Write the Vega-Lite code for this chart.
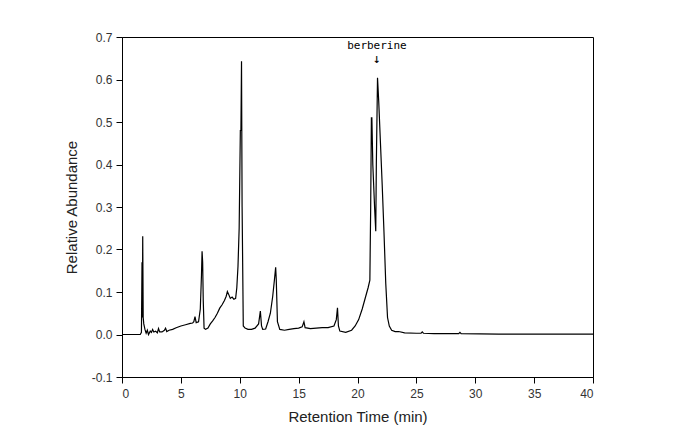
{
  "$schema": "https://vega.github.io/schema/vega-lite/v6.json",
  "width": 471,
  "height": 340,
  "autosize": "none",
  "padding": {"left": 122, "top": 37, "right": 88, "bottom": 71},
  "background": "white",
  "config": {
    "view": {"stroke": "black", "strokeWidth": 1},
    "axis": {
      "grid": false,
      "domain": true,
      "domainColor": "black",
      "tickColor": "black",
      "tickSize": 6,
      "labelFont": "Liberation Sans",
      "labelFontSize": 12,
      "labelColor": "#333",
      "titleFont": "Liberation Sans",
      "titleFontSize": 15,
      "titleFontWeight": "normal",
      "titleColor": "#222"
    }
  },
  "datasets": {
    "trace": [
      {"t": 0, "y": 0}, {"t": 1.55, "y": 0}, {"t": 1.65, "y": 0.005}, {"t": 1.7, "y": 0.17},
      {"t": 1.73, "y": 0.04}, {"t": 1.76, "y": 0.231}, {"t": 1.8, "y": 0.04}, {"t": 1.85, "y": 0.025},
      {"t": 1.95, "y": 0.012}, {"t": 2.05, "y": 0.003}, {"t": 2.15, "y": 0.01}, {"t": 2.25, "y": 0.0},
      {"t": 2.4, "y": 0.008}, {"t": 2.5, "y": 0.005}, {"t": 2.6, "y": 0.012}, {"t": 2.7, "y": 0.006},
      {"t": 2.85, "y": 0.008}, {"t": 3.0, "y": 0.004}, {"t": 3.1, "y": 0.014}, {"t": 3.2, "y": 0.006},
      {"t": 3.4, "y": 0.006}, {"t": 3.6, "y": 0.01}, {"t": 3.7, "y": 0.015}, {"t": 3.8, "y": 0.007},
      {"t": 4.0, "y": 0.01}, {"t": 4.3, "y": 0.012}, {"t": 4.6, "y": 0.016}, {"t": 5.0, "y": 0.02},
      {"t": 5.4, "y": 0.023}, {"t": 5.8, "y": 0.026}, {"t": 6.0, "y": 0.027}, {"t": 6.1, "y": 0.03},
      {"t": 6.2, "y": 0.042}, {"t": 6.3, "y": 0.028}, {"t": 6.5, "y": 0.03}, {"t": 6.65, "y": 0.06},
      {"t": 6.75, "y": 0.14}, {"t": 6.8, "y": 0.196}, {"t": 6.85, "y": 0.17}, {"t": 6.9, "y": 0.08},
      {"t": 6.97, "y": 0.015}, {"t": 7.1, "y": 0.012}, {"t": 7.3, "y": 0.015}, {"t": 7.5, "y": 0.025},
      {"t": 7.7, "y": 0.032}, {"t": 7.9, "y": 0.04}, {"t": 8.1, "y": 0.05}, {"t": 8.3, "y": 0.062},
      {"t": 8.5, "y": 0.07}, {"t": 8.7, "y": 0.08}, {"t": 8.85, "y": 0.09}, {"t": 8.95, "y": 0.101},
      {"t": 9.05, "y": 0.095}, {"t": 9.2, "y": 0.085}, {"t": 9.35, "y": 0.088}, {"t": 9.5, "y": 0.083},
      {"t": 9.65, "y": 0.085}, {"t": 9.75, "y": 0.11}, {"t": 9.85, "y": 0.16}, {"t": 9.95, "y": 0.25},
      {"t": 10.05, "y": 0.48}, {"t": 10.1, "y": 0.48}, {"t": 10.15, "y": 0.643}, {"t": 10.2, "y": 0.3},
      {"t": 10.3, "y": 0.02}, {"t": 10.45, "y": 0.015}, {"t": 10.7, "y": 0.012}, {"t": 11.0, "y": 0.012},
      {"t": 11.3, "y": 0.015}, {"t": 11.6, "y": 0.025}, {"t": 11.75, "y": 0.055}, {"t": 11.85, "y": 0.02},
      {"t": 11.95, "y": 0.012}, {"t": 12.2, "y": 0.013}, {"t": 12.4, "y": 0.03}, {"t": 12.6, "y": 0.05},
      {"t": 12.8, "y": 0.09}, {"t": 12.95, "y": 0.13}, {"t": 13.05, "y": 0.158}, {"t": 13.1, "y": 0.13},
      {"t": 13.2, "y": 0.03}, {"t": 13.4, "y": 0.012}, {"t": 13.8, "y": 0.01}, {"t": 14.2, "y": 0.012},
      {"t": 14.6, "y": 0.014}, {"t": 15.0, "y": 0.015}, {"t": 15.3, "y": 0.018}, {"t": 15.45, "y": 0.03},
      {"t": 15.55, "y": 0.016}, {"t": 16.0, "y": 0.014}, {"t": 16.5, "y": 0.015}, {"t": 17.0, "y": 0.016},
      {"t": 17.5, "y": 0.016}, {"t": 18.0, "y": 0.02}, {"t": 18.2, "y": 0.035}, {"t": 18.3, "y": 0.063},
      {"t": 18.38, "y": 0.02}, {"t": 18.5, "y": 0.008}, {"t": 19.0, "y": 0.005}, {"t": 19.5, "y": 0.01},
      {"t": 19.8, "y": 0.02}, {"t": 20.1, "y": 0.035}, {"t": 20.4, "y": 0.06}, {"t": 20.7, "y": 0.09},
      {"t": 20.9, "y": 0.11}, {"t": 21.05, "y": 0.128}, {"t": 21.12, "y": 0.3}, {"t": 21.18, "y": 0.51},
      {"t": 21.22, "y": 0.51}, {"t": 21.3, "y": 0.4}, {"t": 21.45, "y": 0.3}, {"t": 21.55, "y": 0.243},
      {"t": 21.6, "y": 0.4}, {"t": 21.7, "y": 0.604}, {"t": 21.8, "y": 0.55}, {"t": 21.95, "y": 0.45},
      {"t": 22.1, "y": 0.35}, {"t": 22.25, "y": 0.24}, {"t": 22.4, "y": 0.12}, {"t": 22.55, "y": 0.04},
      {"t": 22.7, "y": 0.02}, {"t": 22.9, "y": 0.01}, {"t": 23.2, "y": 0.007}, {"t": 23.5, "y": 0.007},
      {"t": 24.0, "y": 0.004}, {"t": 25.0, "y": 0.003}, {"t": 25.4, "y": 0.003}, {"t": 25.5, "y": 0.006},
      {"t": 25.6, "y": 0.003}, {"t": 26.5, "y": 0.002}, {"t": 28.6, "y": 0.002}, {"t": 28.7, "y": 0.005},
      {"t": 28.8, "y": 0.002}, {"t": 32, "y": 0.001}, {"t": 40, "y": 0.001}
    ],
    "labels": [
      {"t": 21.65, "y": 0.68, "text": "berberine", "size": 11},
      {"t": 21.65, "y": 0.648, "text": "↓", "size": 13}
    ]
  },
  "layer": [
    {
      "data": {"name": "trace"},
      "mark": {"type": "line", "color": "black", "strokeWidth": 1.2, "interpolate": "linear", "clip": true},
      "encoding": {
        "x": {
          "field": "t", "type": "quantitative",
          "scale": {"domain": [0, 40], "nice": false, "zero": false},
          "axis": {"values": [0, 5, 10, 15, 20, 25, 30, 35, 40], "title": "Retention Time (min)", "labelPadding": 5, "titlePadding": 10}
        },
        "y": {
          "field": "y", "type": "quantitative",
          "scale": {"domain": [-0.1, 0.7], "nice": false, "zero": false},
          "axis": {
            "values": [-0.1, 0, 0.1, 0.2, 0.3, 0.4, 0.5, 0.6, 0.7],
            "labelExpr": "datum.value < 0 ? '-' + format(-datum.value, '.1f') : format(datum.value, '.1f')",
            "title": "Relative Abundance", "labelPadding": 4, "titlePadding": 12
          }
        }
      }
    },
    {
      "data": {"name": "labels"},
      "mark": {"type": "text", "font": "DejaVu Sans Mono", "color": "black", "baseline": "middle", "align": "center"},
      "encoding": {
        "x": {"field": "t", "type": "quantitative"},
        "y": {"field": "y", "type": "quantitative"},
        "text": {"field": "text"},
        "size": {"field": "size", "type": "quantitative", "scale": null, "legend": null}
      }
    }
  ]
}
